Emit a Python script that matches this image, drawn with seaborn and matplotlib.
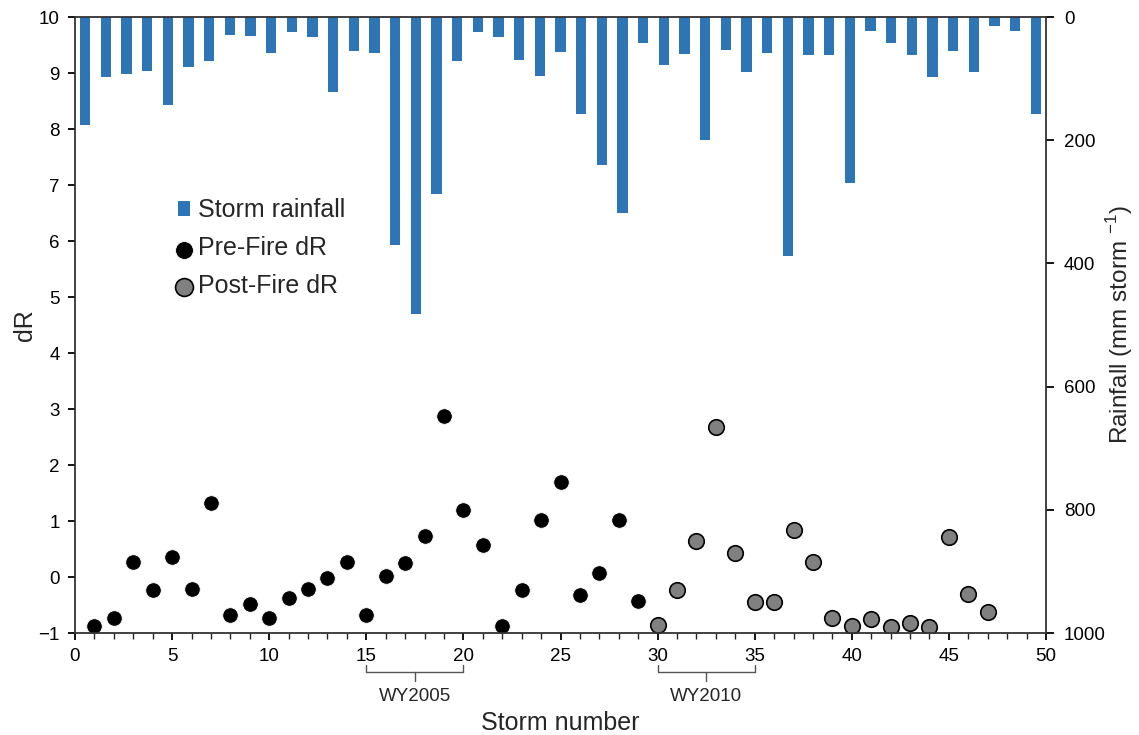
import matplotlib
matplotlib.use("Agg")
import matplotlib.pyplot as plt
import pandas as pd
import seaborn as sns
from matplotlib.ticker import MultipleLocator

# storm rainfall (mm per storm), storms 1..47
storm = list(range(1, 48))
rainfall = [176, 98, 92, 88, 143, 81, 71, 30, 31, 59,
            25, 33, 122, 56, 59, 370, 482, 288, 71, 24,
            33, 69, 95, 57, 158, 241, 318, 42, 78, 60,
            200, 53, 90, 58, 388, 61, 61, 269, 23, 43,
            62, 97, 56, 89, 15, 22, 157]

# dR before and after the fire
pre_storm = list(range(1, 30))
pre_dr = [-0.87, -0.73, 0.27, -0.23, 0.35, -0.22, 1.33, -0.67, -0.49, -0.74,
          -0.37, -0.21, -0.02, 0.26, -0.68, 0.01, 0.25, 0.73, 2.87, 1.19,
          0.58, -0.88, -0.23, 1.02, 1.70, -0.33, 0.08, 1.01, -0.43]
post_storm = list(range(30, 48))
post_dr = [-0.85, -0.23, 0.64, 2.68, 0.42, -0.45, -0.45, 0.84, 0.27, -0.74,
           -0.87, -0.75, -0.89, -0.82, -0.89, 0.71, -0.30, -0.63]

# water-year brackets under the x axis
wy_labels = ["WY2005", "WY2010"]
wy_start = [15, 30]
wy_end = [20, 35]

sns.set_style("ticks")
plt.rcParams["font.family"] = ["Liberation Sans", "DejaVu Sans"]

fig = plt.figure(figsize=(11.39, 7.35), dpi=100)
pos = [75 / 1139, 1 - 633 / 735, 971 / 1139, 616 / 735]
ax_bar = fig.add_axes(pos)
ax = fig.add_axes(pos)
ax.set_zorder(ax_bar.get_zorder() + 1)
ax.patch.set_visible(False)

# rainfall bars, hanging from the top
rain_df = pd.DataFrame({"storm": storm, "rainfall": rainfall})
sns.barplot(data=rain_df, x="storm", y="rainfall", color="#2E75B6",
            saturation=1, width=0.5, linewidth=0, ax=ax_bar,
            label="Storm rainfall")
if ax_bar.get_legend() is not None:
    ax_bar.get_legend().remove()
ax_bar.set_xlim(-0.5, len(storm) - 0.5)
ax_bar.set_ylim(1000, 0)
ax_bar.set_xticks([])
ax_bar.set_xlabel("")
ax_bar.yaxis.tick_right()
ax_bar.yaxis.set_label_position("right")
ax_bar.set_yticks(range(0, 1001, 200))
ax_bar.tick_params(axis="y", labelsize=13.5, length=6, width=1.3,
                   pad=7, colors="black")
ax_bar.set_ylabel(r"Rainfall (mm storm $^{\mathregular{-1}}$)", fontsize=17.5)
ax_bar.yaxis.set_label_coords(1.06, 0.5)
for s in ax_bar.spines.values():
    s.set_visible(False)

# dR points
sns.scatterplot(x=pre_storm, y=pre_dr, ax=ax, color="black", s=125,
                edgecolor="white", linewidth=0.6, label="Pre-Fire dR")
sns.scatterplot(x=post_storm, y=post_dr, ax=ax, color="#808080", s=125,
                edgecolor="black", linewidth=1.2, label="Post-Fire dR")

ax.set_xlim(0, 50)
ax.set_ylim(-1, 10)
ax.xaxis.set_major_locator(MultipleLocator(5))
ax.xaxis.set_minor_locator(MultipleLocator(1))
ax.yaxis.set_major_locator(MultipleLocator(1))
ax.tick_params(axis="both", which="major", labelsize=13.5, length=5,
               width=1.3, colors="black")
ax.tick_params(axis="x", which="minor", length=4, width=1.0)
ax.tick_params(axis="x", pad=6)
ax.tick_params(axis="y", pad=6)
for s in ax.spines.values():
    s.set_visible(True)
    s.set_linewidth(1.3)
    s.set_color("#333333")
ax.set_xlabel("Storm number", fontsize=18)
ax.xaxis.set_label_coords(0.5, -0.127)
ax.set_ylabel("dR", fontsize=18)
ax.yaxis.set_label_coords(-0.039, 0.5)

# brackets for the water years
tr = ax.get_xaxis_transform()
for lab, x0, x1 in zip(wy_labels, wy_start, wy_end):
    xm = (x0 + x1) / 2
    ax.plot([x0, x0, x1, x1], [-0.052, -0.063, -0.063, -0.052], transform=tr,
            color="#555555", lw=1, clip_on=False)
    ax.plot([xm, xm], [-0.063, -0.078], transform=tr, color="#555555",
            lw=1, clip_on=False)
    ax.text(xm, -0.103, lab, transform=tr, ha="center", va="center",
            fontsize=13.5)

# combined legend
h_bar, l_bar = ax_bar.get_legend_handles_labels()
h_pt, l_pt = ax.get_legend_handles_labels()
ax.legend(h_bar[:1] + h_pt, l_bar[:1] + l_pt, loc="center left",
          bbox_to_anchor=(0.106, 0.625), frameon=False, fontsize=18,
          borderpad=0, borderaxespad=0, handlelength=0.5, handleheight=0.5,
          handletextpad=0.3, labelspacing=0.55, markerscale=1.15)

fig.savefig("out.png", dpi=100)
plt.close(fig)
